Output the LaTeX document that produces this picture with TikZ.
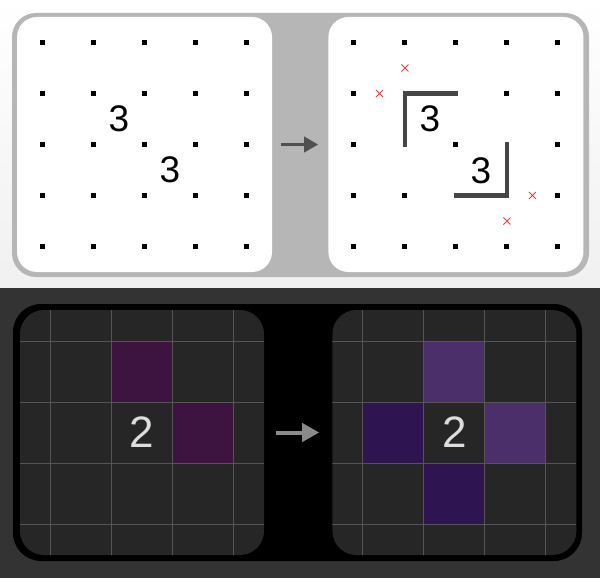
\documentclass[tikz,border=0pt]{standalone}
\usepackage{fontspec}
\setmainfont{Liberation Sans}
\usepackage{xcolor}
\usepackage{tikz}
\usetikzlibrary{arrows.meta, positioning, calc}

\definecolor{lightbg}{HTML}{F0F0F0}
\definecolor{framegray}{HTML}{B6B6B6}
\definecolor{wallgray}{HTML}{464646}
\definecolor{crossred}{HTML}{EE3B3B}
\definecolor{arrowdark}{HTML}{505050}
\definecolor{arrowlight}{HTML}{8A8A8A}
\definecolor{darkbg}{HTML}{333333}
\definecolor{cellbg}{HTML}{262626}
\definecolor{gridgray}{HTML}{555555}
\definecolor{cluegray}{HTML}{DDDDDD}
\definecolor{shadedcell}{HTML}{3D1340}
\definecolor{brightcell}{HTML}{4A2F6A}
\definecolor{deepcell}{HTML}{2E1552}

\begin{document}
\begin{tikzpicture}[
        x=1pt, y=-1pt,
        node distance=56pt,
        frame/.style={rectangle, rounded corners=24pt, inner sep=0pt},
        panel/.style={rectangle, fill=white, rounded corners=20pt, inner sep=0pt,
                      minimum width=255pt, minimum height=255pt},
        darkpanel/.style={rectangle, fill=cellbg, rounded corners=24pt, inner sep=0pt,
                          minimum width=244pt, minimum height=245pt},
        clue/.style={font=\fontsize{37}{37}\selectfont, text=black, inner sep=0pt},
        darkclue/.style={font=\fontsize{44}{44}\selectfont, text=cluegray, inner sep=0pt},
        wall/.style={draw=wallgray, line width=4.5pt, line cap=rect},
        cross/.style={draw=crossred, line width=0.9pt},
        gridline/.style={draw=gridgray, line width=1pt},
        arrow/.style={-{Triangle[length=14pt, width=15pt]}, line width=3.5pt}
      ]
      \useasboundingbox (0,0) rectangle (600,578);

      % Backgrounds
      \shade[top color=white, bottom color=lightbg] (0,0) rectangle (600,288);
      \fill[darkbg] (0,288) rectangle (600,578);

      % --- Top: dot grid puzzle ---
      \node (topframe) [frame, fill=framegray, minimum width=577pt, minimum height=264pt] at (300.5,145) {};
      \node (lefttop) [panel] at (144.5,144.5) {};
      \node (righttop) [panel, right=of lefttop] {};

      % Dots, left panel
      \begin{scope}[shift={(lefttop.center)}]
        \foreach \i in {-2,...,2}
          \foreach \j in {-2,...,2}
            \fill (51*\i-2.5, 51*\j-2.5) rectangle ++(5,5);
        \node (cluea) [clue] at (-25.5,-25.5) {3};
        \node (clueb) [clue] at (25.5,25.5) {3};
      \end{scope}

      % Dots, right panel (some covered by walls)
      \begin{scope}[shift={(righttop.center)}]
        \foreach \j/\cols in {-2/{-2,-1,0,1,2}, -1/{-2,1,2}, 0/{-2,0,2}, 1/{-2,-1,2}, 2/{-2,-1,0,1,2}}
          \foreach \i in \cols
            \fill (51*\i-2.5, 51*\j-2.5) rectangle ++(5,5);
        \draw [wall] (-51,0) -- (-51,-51) -- (0,-51);
        \draw [wall] (51,0) -- (51,51) -- (0,51);
        \foreach \cx/\cy in {-51/-76.5, -76.5/-51, 76.5/51, 51/76.5}
          \draw [cross] (\cx-3.5,\cy-3.5) -- (\cx+3.5,\cy+3.5)
                        (\cx-3.5,\cy+3.5) -- (\cx+3.5,\cy-3.5);
        \node (cluec) [clue] at (-26,-26) {3};
        \node (clued) [clue] at (25,26) {3};
      \end{scope}

      \draw [arrow, draw=arrowdark, fill=arrowdark, shorten <=9pt, shorten >=10pt] (lefttop) -- (righttop);

      % --- Bottom: shaded grid puzzle ---
      \node (botframe) [frame, fill=black, rounded corners=28pt, minimum width=569pt, minimum height=257pt] at (297.5,432.5) {};
      \node (leftbot) [darkpanel] at (142,432.5) {};
      \node (rightbot) [darkpanel, right=68pt of leftbot] {};

      \begin{scope}[shift={(leftbot.center)}]
        \clip [rounded corners=24pt] (-122,-122.5) rectangle (122,122.5);
        \fill [shadedcell] (-30.5,-91.5) rectangle (30.5,-30.5);
        \fill [shadedcell] (30.5,-30.5) rectangle (91.5,30.5);
        \foreach \k in {-91.5,-30.5,30.5,91.5} {
          \draw [gridline] (\k,-123) -- (\k,123);
          \draw [gridline] (-123,\k) -- (123,\k);
        }
      \end{scope}
      \node (cluee) [darkclue] at (leftbot.center) {2};

      \begin{scope}[shift={(rightbot.center)}]
        \clip [rounded corners=24pt] (-122,-122.5) rectangle (122,122.5);
        \fill [brightcell] (-30.5,-91.5) rectangle (30.5,-30.5);
        \fill [brightcell] (30.5,-30.5) rectangle (91.5,30.5);
        \fill [deepcell] (-91.5,-30.5) rectangle (-30.5,30.5);
        \fill [deepcell] (-30.5,30.5) rectangle (30.5,91.5);
        \foreach \k in {-91.5,-30.5,30.5,91.5} {
          \draw [gridline] (\k,-123) -- (\k,123);
          \draw [gridline] (-123,\k) -- (123,\k);
        }
      \end{scope}
      \node (cluef) [darkclue] at (rightbot.center) {2};

      \draw [arrow, -{Triangle[length=17pt, width=18pt]}, line width=4pt, draw=arrowlight, fill=arrowlight,
             shorten <=12pt, shorten >=13pt] (leftbot) -- (rightbot);

    \end{tikzpicture}
\end{document}
